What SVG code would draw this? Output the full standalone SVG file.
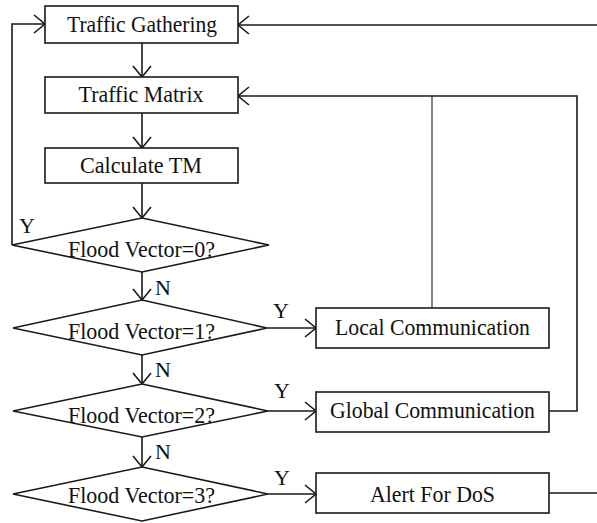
<svg xmlns="http://www.w3.org/2000/svg" width="597" height="523" viewBox="0 0 597 523">
  <defs>
    <marker id="chev" viewBox="0 0 14 20" refX="12" refY="10" markerWidth="14" markerHeight="20" markerUnits="userSpaceOnUse" orient="auto">
      <path d="M1,1 L12,10 L1,19" fill="none" stroke="#1a1a1a" stroke-width="1.6"/>
    </marker>
  </defs>
  <style>
    .box { fill: #fff; stroke: #1a1a1a; stroke-width: 1.6; }
    .dia { fill: #fff; stroke: #1a1a1a; stroke-width: 1.6; }
    .lbl { font-size: 23px; text-anchor: middle; fill: #111; }
    .yn { font-size: 22px; fill: #111; }
    .wire { fill: none; stroke: #1a1a1a; stroke-width: 1.6; }
    .arr { marker-end: url(#chev); }
  </style>

  <g id="connectors">
    <line class="wire arr" x1="142" y1="43" x2="142" y2="77"/>
    <line class="wire arr" x1="142" y1="113" x2="142" y2="148"/>
    <line class="wire arr" x1="142" y1="183" x2="142" y2="218"/>
    <polyline class="wire arr" points="12,245 12,24 45,24"/>
    <line class="wire arr" x1="142" y1="272" x2="142" y2="300"/>
    <line class="wire arr" x1="142" y1="355" x2="142" y2="384"/>
    <line class="wire arr" x1="142" y1="437" x2="142" y2="467"/>
    <line class="wire arr" x1="267" y1="328" x2="316" y2="328"/>
    <line class="wire arr" x1="268" y1="411" x2="316" y2="411"/>
    <line class="wire arr" x1="268" y1="494" x2="316" y2="494"/>
    <line class="wire" x1="432" y1="308" x2="432" y2="96" style="stroke:#666"/>
    <polyline class="wire arr" points="549,411 577,411 577,96 238,96"/>
    <line class="wire" x1="549" y1="493" x2="597" y2="493"/>
    <line class="wire arr" x1="597" y1="25" x2="238" y2="25"/>
    <text class="yn" font-family="Liberation Serif" x="19" y="233">Y</text>
    <text class="yn" font-family="Liberation Serif" x="155" y="295">N</text>
    <text class="yn" font-family="Liberation Serif" x="273" y="318">Y</text>
    <text class="yn" font-family="Liberation Serif" x="155" y="377">N</text>
    <text class="yn" font-family="Liberation Serif" x="274" y="398">Y</text>
    <text class="yn" font-family="Liberation Serif" x="155" y="459">N</text>
    <text class="yn" font-family="Liberation Serif" x="274" y="485">Y</text>
  </g>

  <g id="traffic-gathering">
    <rect class="box" x="45" y="6" width="193" height="37"/>
    <text class="lbl" font-family="Liberation Serif" x="142" y="32" textLength="150" lengthAdjust="spacingAndGlyphs">Traffic Gathering</text>
  </g>
  <g id="traffic-matrix">
    <rect class="box" x="45" y="77" width="193" height="36"/>
    <text class="lbl" font-family="Liberation Serif" x="141" y="102" textLength="125" lengthAdjust="spacingAndGlyphs">Traffic Matrix</text>
  </g>
  <g id="calculate-tm">
    <rect class="box" x="45" y="148" width="193" height="35"/>
    <text class="lbl" font-family="Liberation Serif" x="141" y="173" textLength="122" lengthAdjust="spacingAndGlyphs">Calculate TM</text>
  </g>
  <g id="flood-0">
    <polygon class="dia" points="142,218 269,245 142,272 12,245"/>
    <text class="lbl" font-family="Liberation Serif" x="141.5" y="257" textLength="147" lengthAdjust="spacingAndGlyphs">Flood Vector=0?</text>
  </g>
  <g id="flood-1">
    <polygon class="dia" points="142,300 267,328 142,355 13,328"/>
    <text class="lbl" font-family="Liberation Serif" x="141.5" y="339" textLength="147" lengthAdjust="spacingAndGlyphs">Flood Vector=1?</text>
  </g>
  <g id="flood-2">
    <polygon class="dia" points="142,384 268,411 142,437 13,411"/>
    <text class="lbl" font-family="Liberation Serif" x="141.5" y="423" textLength="147" lengthAdjust="spacingAndGlyphs">Flood Vector=2?</text>
  </g>
  <g id="flood-3">
    <polygon class="dia" points="142,467 268,494 142,521 13,494"/>
    <text class="lbl" font-family="Liberation Serif" x="141.5" y="503" textLength="147" lengthAdjust="spacingAndGlyphs">Flood Vector=3?</text>
  </g>
  <g id="local-communication">
    <rect class="box" x="316" y="308" width="233" height="40"/>
    <text class="lbl" font-family="Liberation Serif" x="432.5" y="335" textLength="195" lengthAdjust="spacingAndGlyphs">Local Communication</text>
  </g>
  <g id="global-communication">
    <rect class="box" x="316" y="392" width="233" height="40"/>
    <text class="lbl" font-family="Liberation Serif" x="432.5" y="418" textLength="205" lengthAdjust="spacingAndGlyphs">Global Communication</text>
  </g>
  <g id="alert-dos">
    <rect class="box" x="316" y="473" width="233" height="40"/>
    <text class="lbl" font-family="Liberation Serif" x="432.5" y="502" textLength="125" lengthAdjust="spacingAndGlyphs">Alert For DoS</text>
  </g>
</svg>
